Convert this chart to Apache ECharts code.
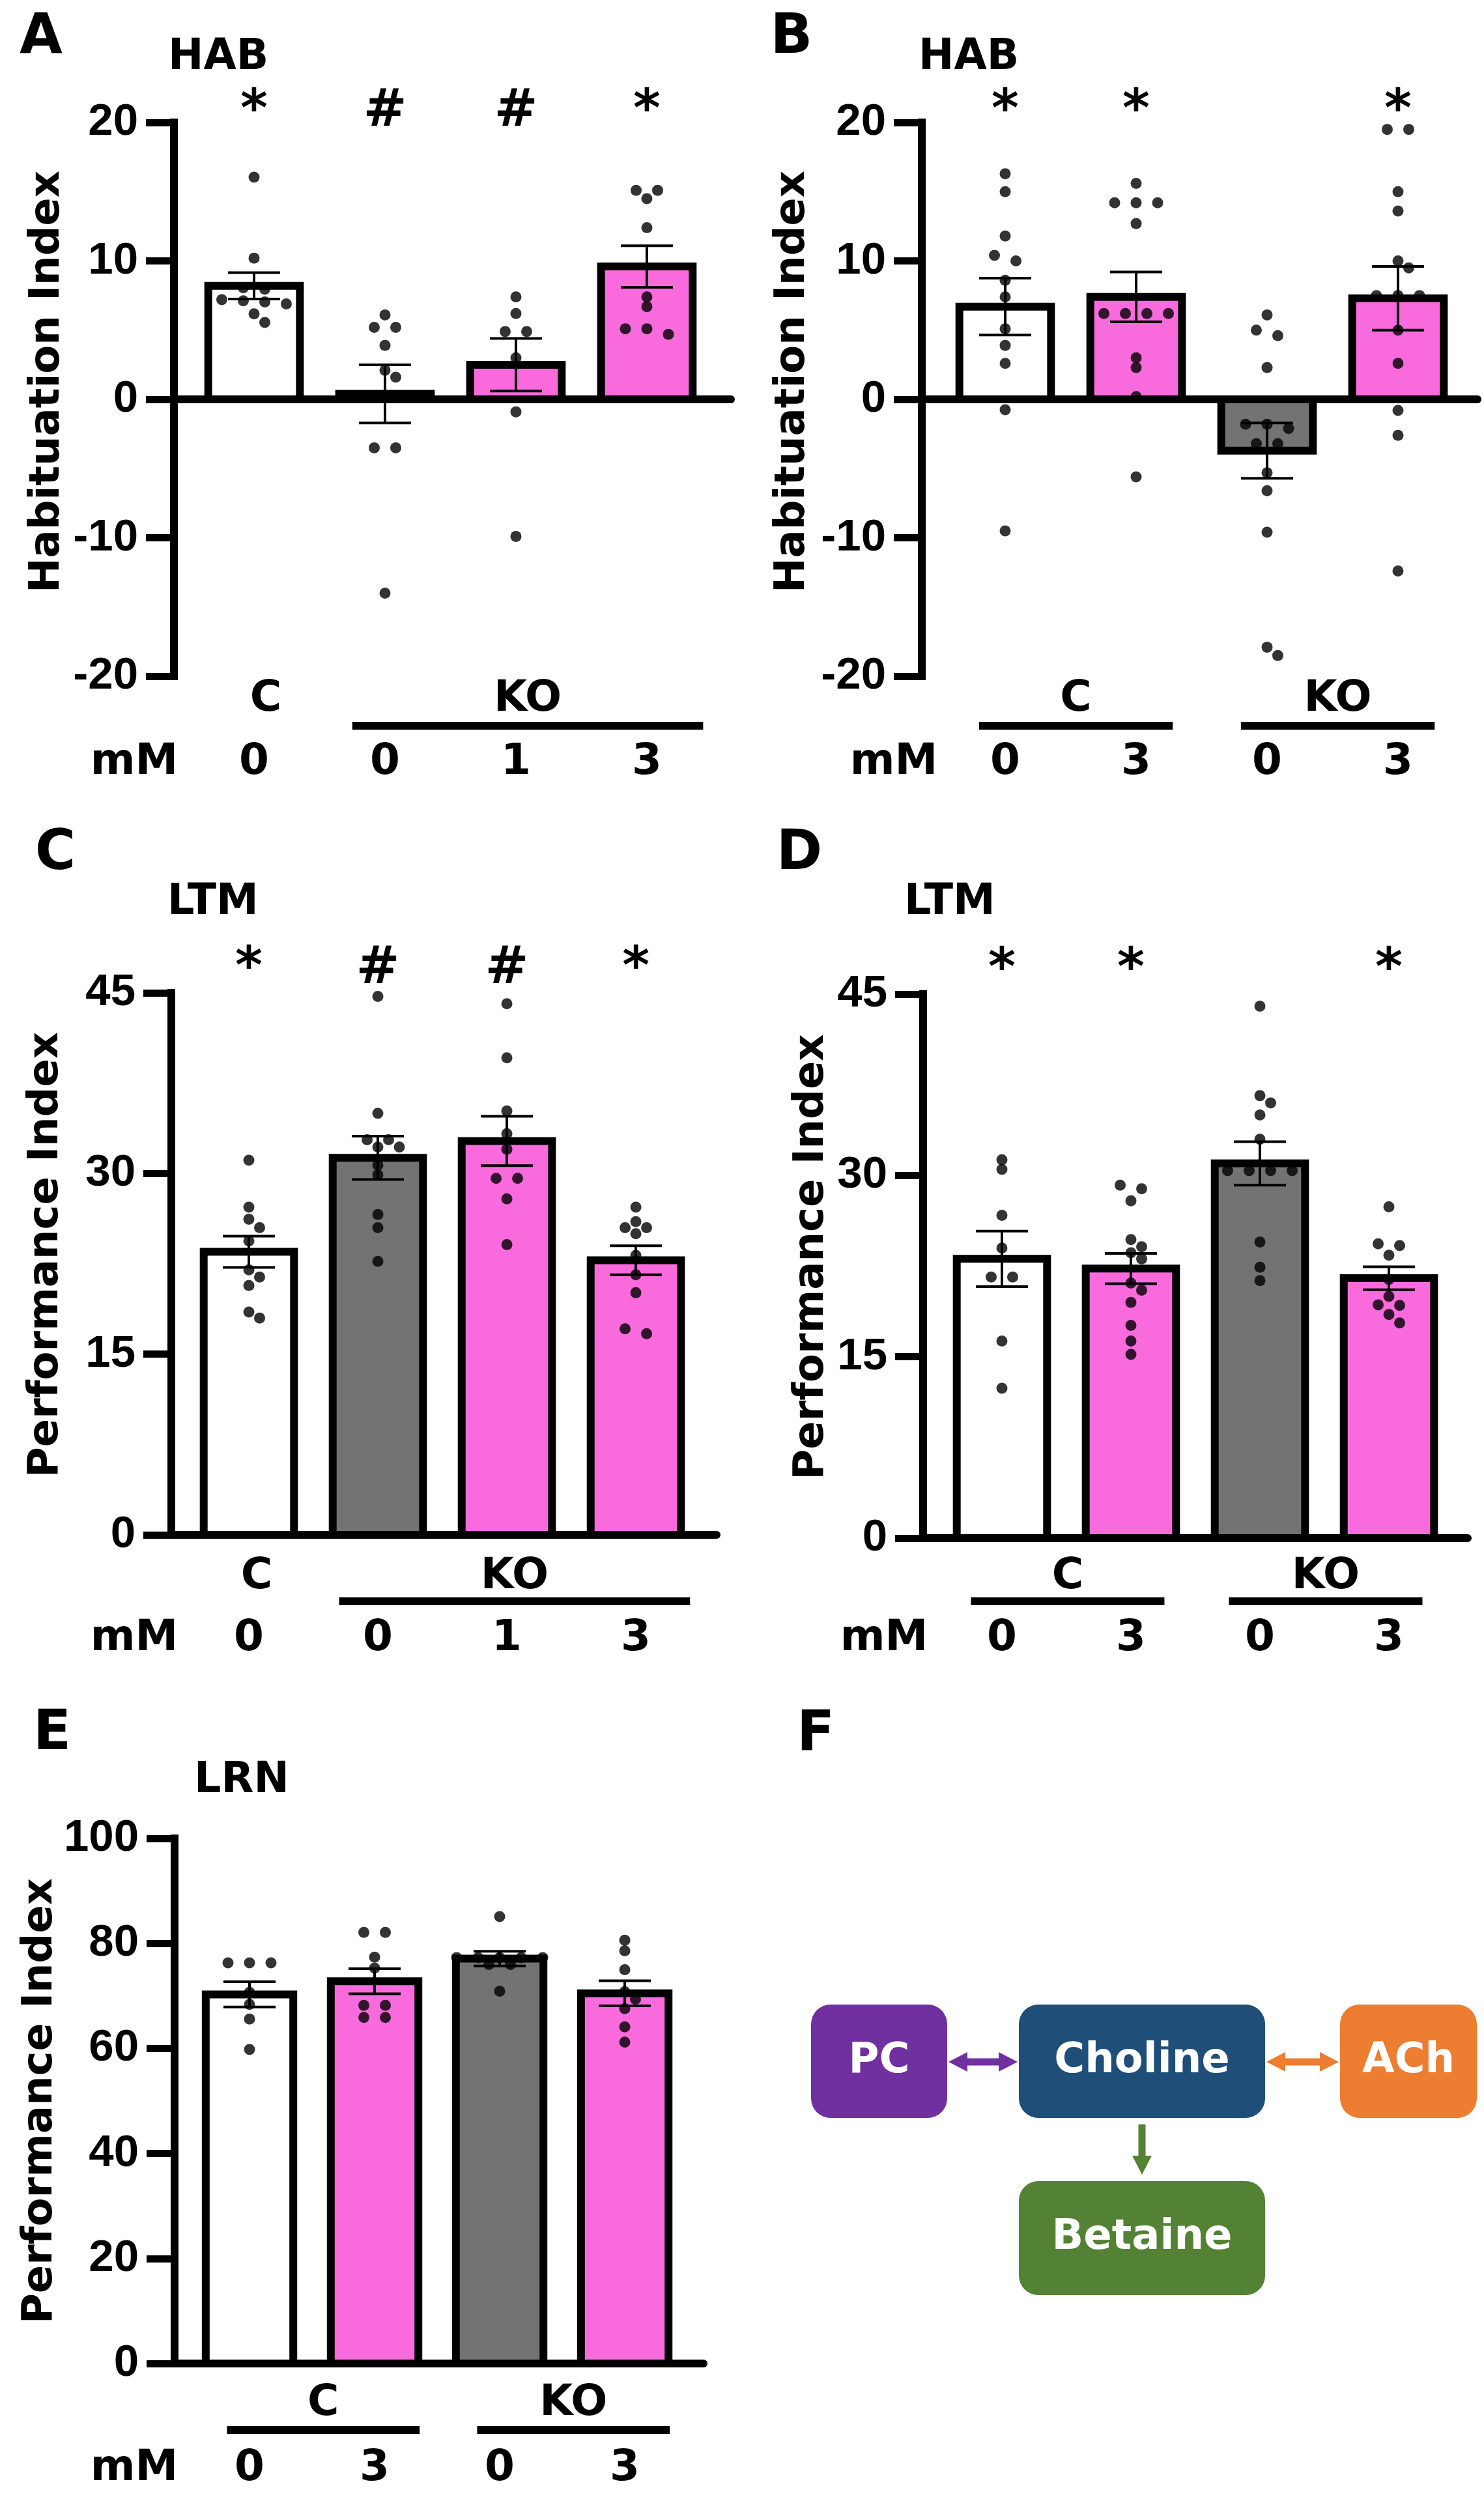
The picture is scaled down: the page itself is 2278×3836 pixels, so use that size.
<!DOCTYPE html>
<html><head><meta charset="utf-8">
<script src="https://cdn.jsdelivr.net/npm/echarts@6.0.0/dist/echarts.min.js"></script>
<style>html,body{margin:0;padding:0;background:#fff}#c{width:2278px;height:3836px}</style>
</head><body><div id="c"></div>
<script>
// ================= DATA =================
// Panel A (HAB)
const doseA = ['0', '0', '1', '3'];
const groupNameA = ['C', 'KO'];
const groupSpanA = [[0, 0], [1, 3]];
const meanA = [8.2, 0.4, 2.5, 9.6];
const semA = [0.95, 2.1, 1.9, 1.5];
const markA = ['*', '#', '#', '*'];
const ptsA = [
  [16.05, 10.2, 8.06, 7.95, 7.2, 7.12, 7.04, 6.89, 6.18, 5.55],
  [6.1, 5.2, 5.2, 3.9, 2.1, 1.6, -3.5, -3.5, -14.0],
  [7.4, 6.2, 4.9, 4.9, 3.0, -0.9, -9.9],
  [15.1, 15.1, 14.5, 12.4, 7.4, 6.7, 5.1, 5.1, 4.7]
];
// Panel B (HAB)
const doseB = ['0', '3', '0', '3'];
const groupNameB = ['C', 'KO'];
const groupSpanB = [[0, 1], [2, 3]];
const meanB = [6.7, 7.4, -3.7, 7.3];
const semB = [2.05, 1.8, 2.0, 2.3];
const markB = ['*', '*', '', '*'];
const ptsB = [
  [16.3, 15.0, 11.8, 10.4, 10.0, 8.6, 7.4, 5.1, 3.9, 2.6, -0.75, -9.5],
  [15.6, 14.2, 14.2, 14.2, 12.7, 6.2, 6.2, 6.2, 6.2, 3.0, 2.3, 0.2, -5.6],
  [6.1, 5.0, 4.6, 2.3, -1.8, -1.8, -2.1, -3.2, -3.2, -5.3, -6.6, -9.6, -17.9, -18.5],
  [19.5, 19.5, 15.0, 13.6, 10.0, 9.5, 7.5, 7.5, 7.5, 5.0, 2.6, -0.8, -2.6, -12.4]
];
// Panel C (LTM)
const doseC = ['0', '0', '1', '3'];
const groupNameC = ['C', 'KO'];
const groupSpanC = [[0, 0], [1, 3]];
const meanC = [23.5, 31.3, 32.7, 22.8];
const semC = [1.3, 1.8, 2.05, 1.2];
const markC = ['*', '#', '#', '*'];
const ptsC = [
  [31.1, 27.2, 26.2, 25.5, 24.4, 22.0, 21.4, 20.7, 18.5, 18.0],
  [44.7, 35.0, 32.8, 32.8, 32.2, 32.2, 30.7, 29.9, 26.6, 25.5, 22.7],
  [44.1, 39.6, 35.2, 33.3, 32.0, 29.6, 29.6, 27.9, 24.1],
  [27.2, 26.0, 25.5, 25.5, 25.0, 23.2, 21.6, 20.1, 17.1, 16.7]
];
// Panel D (LTM)
const doseD = ['0', '3', '0', '3'];
const groupNameD = ['C', 'KO'];
const groupSpanD = [[0, 1], [2, 3]];
const meanD = [23.1, 22.3, 31.0, 21.5];
const semD = [2.3, 1.25, 1.8, 0.95];
const markD = ['*', '*', '', '*'];
const ptsD = [
  [31.3, 30.5, 26.7, 24.0, 21.6, 21.6, 16.3, 12.4],
  [29.2, 28.9, 27.9, 24.7, 24.1, 23.6, 23.1, 21.1, 20.5, 19.5, 17.6, 16.3, 15.2],
  [44.0, 36.6, 36.0, 35.0, 33.0, 30.4, 30.4, 30.4, 30.4, 24.5, 22.4, 21.3],
  [27.4, 24.35, 24.2, 23.4, 21.4, 20.0, 19.3, 19.25, 18.5, 17.8]
];
// Panel E (LRN)
const doseE = ['0', '3', '0', '3'];
const groupNameE = ['C', 'KO'];
const groupSpanE = [[0, 1], [2, 3]];
const meanE = [70.3, 72.8, 77.1, 70.5];
const semE = [2.4, 2.4, 1.4, 2.4];
const markE = ['', '', '', ''];
const ptsE = [
  [76.3, 76.3, 76.3, 70.7, 68.4, 65.6, 59.8],
  [82.1, 82.1, 77.4, 75.3, 68.2, 68.2, 65.9, 65.9],
  [85.1, 77.3, 77.3, 77.3, 77.3, 77.3, 76.0, 76.0, 70.9],
  [80.6, 78.6, 75.0, 70.8, 69.4, 67.6, 64.1, 61.2]
];
// Panel F (pathway)
const nodeNames = ['PC', 'Choline', 'ACh', 'Betaine'];

// ================= STYLE / LAYOUT =================
const FONT = 'DejaVu Sans';
const TICKFONT = 'Liberation Sans';
const WHITE = '#FFFFFF', GRAY = '#737373', PINK = '#F96BDD';
const panels = [
  { dose: doseA, gName: groupNameA, gSpan: groupSpanA, mean: meanA, sem: semA, mark: markA, pts: ptsA,
    fills: [WHITE, GRAY, PINK, PINK], lines: [false, true], ext: [-0.25, 0.43],
    left: 267, top: 188, width: 855, height: 850, xmin: -0.612, xmax: 3.642, ymin: -20, ymax: 20, yint: 10,
    yName: 'Habituation Index', nameGap: 162, namePad: 54, title: 'HAB', tx: 258, ty: 89, letter: 'A', lx: 63, ly: 59,
    markDy: 56, gDy: 36, lDy: 76, dDy: 133, mmDx: 61 },
  { dose: doseB, gName: groupNameB, gSpan: groupSpanB, mean: meanB, sem: semB, mark: markB, pts: ptsB,
    fills: [WHITE, PINK, GRAY, PINK], lines: [true, true], ext: [-0.2, 0.28],
    left: 1415, top: 188, width: 853, height: 850, xmin: -0.637, xmax: 3.607, ymin: -20, ymax: 20, yint: 10,
    yName: 'Habituation Index', nameGap: 166, namePad: 54, title: 'HAB', tx: 1410, ty: 89, letter: 'B', lx: 1215, ly: 59,
    markDy: 56, gDy: 36, lDy: 76, dDy: 133, mmDx: 43 },
  { dose: doseC, gName: groupNameC, gSpan: groupSpanC, mean: meanC, sem: semC, mark: markC, pts: ptsC,
    fills: [WHITE, GRAY, PINK, PINK], lines: [false, true], ext: [-0.3, 0.42],
    left: 263, top: 1524, width: 837, height: 832, xmin: -0.601, xmax: 3.626, ymin: 0, ymax: 45, yint: 15,
    yName: 'Performance Index', nameGap: 160, namePad: 28, title: 'LTM', tx: 257, ty: 1386, letter: 'C', lx: 85, ly: 1312,
    markDy: 76, gDy: 65, lDy: 102, dDy: 160, mmDx: 57 },
  { dose: doseD, gName: groupNameD, gSpan: groupSpanD, mean: meanD, sem: semD, mark: markD, pts: ptsD,
    fills: [WHITE, PINK, GRAY, PINK], lines: [true, true], ext: [-0.24, 0.26],
    left: 1417, top: 1526, width: 836, height: 835, xmin: -0.611, xmax: 3.611, ymin: 0, ymax: 45, yint: 15,
    yName: 'Performance Index', nameGap: 139, namePad: 28, title: 'LTM', tx: 1388, ty: 1386, letter: 'D', lx: 1227, ly: 1312,
    markDy: 76, gDy: 60, lDy: 97, dDy: 155, mmDx: 60 },
  { dose: doseE, gName: groupNameE, gSpan: groupSpanE, mean: meanE, sem: semE, mark: markE, pts: ptsE,
    fills: [WHITE, PINK, GRAY, PINK], lines: [true, true], ext: [-0.18, 0.36],
    left: 268, top: 2822, width: 812, height: 806, xmin: -0.599, xmax: 3.630, ymin: 0, ymax: 100, yint: 20,
    yName: 'Performance Index', nameGap: 167, namePad: 0, title: 'LRN', tx: 298, ty: 2734, letter: 'E', lx: 80, ly: 2663,
    markDy: 76, gDy: 62, lDy: 102, dDy: 162, mmDx: 62 }
];

// deterministic beeswarm (GraphPad-like rows)
function swarm(vals, pxY, pxX) {
  const S = 33, D = 14, TH = 9;
  const sorted = vals.slice().sort((a, b) => b - a);
  const rows = []; let cur = [];
  for (const v of sorted) {
    if (cur.length && (cur[0] - v) * pxY > TH) { rows.push(cur); cur = []; }
    cur.push(v);
  }
  if (cur.length) rows.push(cur);
  const placed = [], out = [];
  const shifts = [0, S / 2, -S / 2, S, -S, 1.5 * S, -1.5 * S];
  for (const row of rows) {
    const n = row.length;
    let best = 0;
    for (const sh of shifts) {
      let ok = true;
      row.forEach((v, j) => {
        const x = (j - (n - 1) / 2) * S + sh, y = v * pxY;
        for (const p of placed) if (Math.hypot(p.x - x, p.y - y) < D) ok = false;
      });
      if (ok) { best = sh; break; }
    }
    row.forEach((v, j) => {
      const x = (j - (n - 1) / 2) * S + best;
      placed.push({ x: x, y: v * pxY });
      out.push(x / pxX);
    });
  }
  return sorted.map((v, k) => [out[k], v]);
}

const grids = [], xAxes = [], yAxes = [], series = [], graphics = [];
const txt = (size, color) => ({ fill: color || '#000', fontSize: size, fontWeight: 'bold', fontFamily: FONT });

panels.forEach((L, pi) => {
  grids.push({ left: L.left, top: L.top, width: L.width, height: L.height, containLabel: false, outerBoundsMode: 'none' });
  xAxes.push({ gridIndex: pi, type: 'value', min: L.xmin, max: L.xmax,
    axisLine: { show: true, onZero: true, lineStyle: { color: '#000', width: 12 } },
    axisTick: { show: false }, axisLabel: { show: false }, splitLine: { show: false } });
  yAxes.push({ gridIndex: pi, type: 'value', min: L.ymin, max: L.ymax, interval: L.yint,
    axisLine: { show: true, onZero: false, lineStyle: { color: '#000', width: 12, cap: 'square' } },
    axisTick: { show: true, length: 43, lineStyle: { color: '#000', width: 11 } },
    axisLabel: { margin: 55, color: '#000', fontSize: 69, fontWeight: 'bold', fontFamily: TICKFONT },
    splitLine: { show: false },
    name: L.yName, nameLocation: 'middle', nameGap: L.nameGap,
    nameTextStyle: { color: '#000', fontSize: 64, fontWeight: 'bold', fontFamily: FONT, padding: [0, 0, 0, L.namePad] } });

  const pxX = L.width / (L.xmax - L.xmin), pxY = L.height / (L.ymax - L.ymin);

  // bars
  series.push({ type: 'custom', xAxisIndex: pi, yAxisIndex: pi, clip: false, silent: true, z: 3,
    data: L.mean.map((m, i) => [i, m]),
    renderItem: (params, api) => {
      const i = api.value(0), v = api.value(1);
      const a = api.coord([i - 0.35, 0]), b = api.coord([i + 0.35, v]);
      return { type: 'rect',
        shape: { x: Math.min(a[0], b[0]), y: Math.min(a[1], b[1]), width: Math.abs(b[0] - a[0]), height: Math.abs(b[1] - a[1]) },
        style: { fill: L.fills[params.dataIndex], stroke: '#000', lineWidth: 12 } };
    } });
  // error bars (mean ± SEM)
  series.push({ type: 'custom', xAxisIndex: pi, yAxisIndex: pi, clip: false, silent: true, z: 4,
    data: L.mean.map((m, i) => [i, m, L.sem[i]]),
    renderItem: (params, api) => {
      const i = api.value(0), m = api.value(1), s = api.value(2);
      const t = api.coord([i, m + s]), b = api.coord([i, m - s]);
      const cw = 40, st = { stroke: '#000', lineWidth: 4 };
      return { type: 'group', children: [
        { type: 'line', shape: { x1: t[0], y1: t[1], x2: b[0], y2: b[1] }, style: st },
        { type: 'line', shape: { x1: t[0] - cw, y1: t[1], x2: t[0] + cw, y2: t[1] }, style: st },
        { type: 'line', shape: { x1: b[0] - cw, y1: b[1], x2: b[0] + cw, y2: b[1] }, style: st } ] };
    } });
  // individual points
  const dots = [];
  L.pts.forEach((vals, i) => swarm(vals, pxY, pxX).forEach(d => dots.push([i + d[0], d[1]])));
  series.push({ type: 'scatter', xAxisIndex: pi, yAxisIndex: pi, silent: true, z: 5, clip: false,
    symbol: 'circle', symbolSize: 17, itemStyle: { color: '#000' }, data: dots });
  // significance marks
  const marks = [];
  L.mark.forEach((t, i) => { if (t) marks.push({ i: i, t: t }); });
  if (marks.length) series.push({ type: 'custom', xAxisIndex: pi, yAxisIndex: pi, clip: false, silent: true, z: 6,
    data: marks.map(m => [m.i, L.ymax]),
    renderItem: (params, api) => {
      const p = api.coord([api.value(0), api.value(1)]);
      return { type: 'text', x: p[0], y: p[1] - L.markDy,
        style: Object.assign(txt(80), { text: marks[params.dataIndex].t, align: 'center', verticalAlign: 'top' }) };
    } });
  // category labels under the axis
  const items = [];
  L.dose.forEach((t, i) => items.push({ kind: 'dose', x: i, text: t }));
  L.gName.forEach((g, k) => {
    const x1 = L.gSpan[k][0] + L.ext[0], x2 = L.gSpan[k][1] + L.ext[1];
    items.push({ kind: 'group', x: (x1 + x2) / 2, text: g });
    if (L.lines[k]) items.push({ kind: 'line', x: x1, x2: x2 });
  });
  items.push({ kind: 'unit', x: L.xmin, text: 'mM' });
  series.push({ type: 'custom', xAxisIndex: pi, yAxisIndex: pi, clip: false, silent: true, z: 6,
    data: items.map(it => [it.x, L.ymin]),
    renderItem: (params, api) => {
      const it = items[params.dataIndex];
      const p = api.coord([api.value(0), api.value(1)]);
      if (it.kind === 'line') {
        const p2 = api.coord([it.x2, L.ymin]);
        return { type: 'line', shape: { x1: p[0], y1: p[1] + L.lDy, x2: p2[0], y2: p[1] + L.lDy }, style: { stroke: '#000', lineWidth: 12 } };
      }
      const x = it.kind === 'unit' ? p[0] - L.mmDx : p[0];
      const y = p[1] + (it.kind === 'group' ? L.gDy : L.dDy);
      return { type: 'text', x: x, y: y, style: Object.assign(txt(66), { text: it.text, align: 'center', verticalAlign: 'middle' }) };
    } });

  graphics.push({ type: 'text', x: L.lx, y: L.ly, style: Object.assign(txt(85), { text: L.letter, align: 'center', verticalAlign: 'middle' }) });
  graphics.push({ type: 'text', x: L.tx, y: L.ty, style: Object.assign(txt(65), { text: L.title, align: 'left', verticalAlign: 'middle' }) });
});

// ---- Panel F: pathway diagram ----
graphics.push({ type: 'text', x: 1252, y: 2664, style: Object.assign(txt(85), { text: 'F', align: 'center', verticalAlign: 'middle' }) });
const boxes = [
  { x: 1245, y: 3077, w: 209, h: 174, c: '#7030A0' },
  { x: 1564, y: 3077, w: 378, h: 174, c: '#1F4E79' },
  { x: 2057, y: 3077, w: 210, h: 174, c: '#ED7D31' },
  { x: 1564, y: 3348, w: 378, h: 175, c: '#548235' }
];
boxes.forEach((b, k) => {
  graphics.push({ type: 'rect', shape: { x: b.x, y: b.y, width: b.w, height: b.h, r: 30 }, style: { fill: b.c } });
  graphics.push({ type: 'text', x: b.x + b.w / 2, y: b.y + b.h / 2, style: Object.assign(txt(64, '#FFFFFF'), { text: nodeNames[k], align: 'center', verticalAlign: 'middle' }) });
});
function dblArrowH(x1, x2, cy, color) {
  const L = 29, h = 15, t = 5.5;
  return { type: 'polygon', shape: { points: [[x1, cy], [x1 + L, cy - h], [x1 + L, cy - t], [x2 - L, cy - t], [x2 - L, cy - h], [x2, cy],
    [x2 - L, cy + h], [x2 - L, cy + t], [x1 + L, cy + t], [x1 + L, cy + h]] }, style: { fill: color } };
}
graphics.push(dblArrowH(1456, 1562, 3165, '#7030A0'));
graphics.push(dblArrowH(1944, 2055, 3165, '#ED7D31'));
graphics.push({ type: 'polygon', shape: { points: [[1747.5, 3261], [1758.5, 3261], [1758.5, 3309], [1768, 3309], [1753, 3338], [1738, 3309], [1747.5, 3309]] }, style: { fill: '#548235' } });

const chart = echarts.init(document.getElementById('c'), null, { renderer: 'canvas', width: 2278, height: 3836 });
chart.setOption({
  backgroundColor: '#FFFFFF',
  animation: false,
  grid: grids, xAxis: xAxes, yAxis: yAxes, series: series,
  graphic: { elements: graphics }
});
</script></body></html>
